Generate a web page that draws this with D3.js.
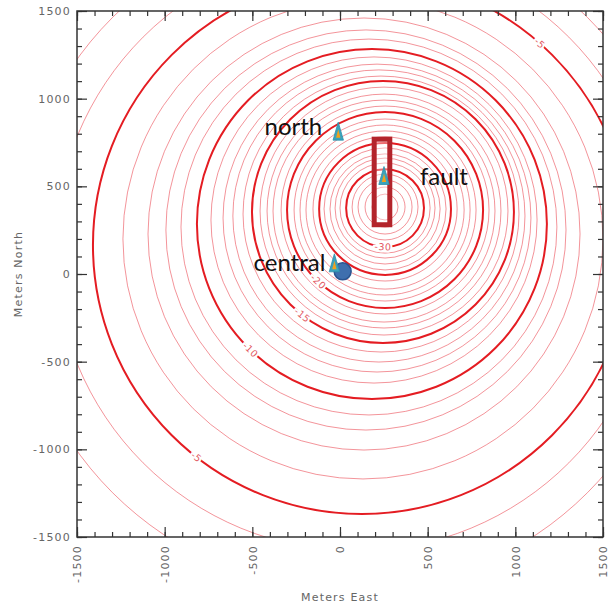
<!DOCTYPE html>
<html>
<head>
<meta charset="utf-8">
<script src="https://cdn.jsdelivr.net/npm/d3@7"></script>
<style>
  html, body { margin: 0; padding: 0; background: #fff; }
  svg { display: block; }
</style>
</head>
<body>
<svg id="chart" width="616" height="608"></svg>
<script>
// Contour levels of the displacement field and the circle that traces each one
// (centre east / north and radius, all in metres).
const contourLevels = [-34, -33, -32, -31, -30, -29, -28, -27, -26, -25, -24, -23, -22, -21, -20,
  -19, -18, -17, -16, -15, -14, -13, -12, -11, -10, -9, -8, -7, -6, -5, -4, -3];
const centerEast = [257, 257, 257, 257, 257, 257, 257, 257, 257, 257, 257, 257, 257, 257, 257,
  257, 251, 251, 251, 245, 234, 222, 211, 194, 182, 165, 148, 137, 131, 125, 91, 57];
const centerNorth = [382, 382, 382, 382, 376, 376, 376, 371, 371, 371, 371, 365, 365, 365, 365,
  365, 359, 359, 359, 354, 342, 331, 319, 308, 285, 268, 251, 228, 200, 165, 137, 108];
const radiusM = [74, 114, 154, 188, 222, 257, 285, 314, 348, 376, 411, 451, 485, 519, 559,
  593, 633, 667, 707, 747, 787, 833, 878, 930, 998, 1072, 1141, 1232, 1369, 1534, 1717, 1916];

// Labelled contours and the direction (degrees, counter-clockwise from east) of each label
const labelLevels = [-30, -20, -15, -10, -5, -5];
const labelAngles = [-93, -133, -128, -134, -128, 48.6];

// Stations and the central point
const stationNames = ["north", "fault", "central"];
const stationEast = [-10, 251, -32];
const stationNorth = [812, 559, 61];
const centralPoint = [15, 15];

// Fault outline (east min/max, north min/max)
const faultEast = [195, 284];
const faultNorth = [281, 769];

// Axes
const axisDomain = [-1500, 1500];
const majorTicks = [-1500, -1000, -500, 0, 500, 1000, 1500];
const minorTicks = d3.range(-1500, 1501, 100);
const xTitle = "Meters East";
const yTitle = "Meters North";

const svg = d3.select("#chart");
const plotL = 77, plotR = 603, plotT = 11, plotB = 537;

const x = d3.scaleLinear().domain(axisDomain).range([plotL, plotR]);
const y = d3.scaleLinear().domain(axisDomain).range([plotB, plotT]);
const rPx = m => x(m) - x(0);

svg.append("defs").append("clipPath").attr("id", "plotClip")
  .append("rect").attr("x", plotL).attr("y", plotT)
  .attr("width", plotR - plotL).attr("height", plotB - plotT);

const contours = contourLevels.map((lv, i) => ({
  level: lv, cx: centerEast[i], cy: centerNorth[i], r: radiusM[i], major: lv % 5 === 0
}));

const gC = svg.append("g").attr("clip-path", "url(#plotClip)");
gC.selectAll("circle.c").data(contours).join("circle")
  .attr("class", "c")
  .attr("cx", d => x(d.cx))
  .attr("cy", d => y(d.cy))
  .attr("r", d => rPx(d.r))
  .attr("fill", "none")
  .attr("stroke", d => d.major ? "#e41c22" : "#ea4a55")
  .attr("stroke-opacity", d => d.major ? 1 : 0.7)
  .attr("stroke-width", d => d.major ? 2 : 0.85);

// Contour labels set along each circle, with a white halo that breaks the line
const labels = labelLevels.map((lv, i) => {
  const c = contours.find(d => d.level === lv);
  const a = labelAngles[i] * Math.PI / 180;
  const px = x(c.cx + c.r * Math.cos(a));
  const py = y(c.cy + c.r * Math.sin(a));
  let rot = -labelAngles[i] + 90;
  while (rot > 90) rot -= 180;
  while (rot <= -90) rot += 180;
  return { text: String(lv), px, py, rot };
});
gC.selectAll("text.cl").data(labels).join("text")
  .attr("class", "cl")
  .attr("transform", d => `translate(${d.px},${d.py}) rotate(${d.rot})`)
  .attr("text-anchor", "middle")
  .attr("dy", "0.35em")
  .attr("font-family", "DejaVu Sans, sans-serif")
  .attr("font-size", 9.5)
  .attr("letter-spacing", 0.5)
  .attr("fill", "#e25862")
  .attr("stroke", "#fff")
  .attr("stroke-width", 4)
  .attr("paint-order", "stroke")
  .text(d => d.text);

// Fault outline
svg.append("rect")
  .attr("x", x(faultEast[0]))
  .attr("y", y(faultNorth[1]))
  .attr("width", x(faultEast[1]) - x(faultEast[0]))
  .attr("height", y(faultNorth[0]) - y(faultNorth[1]))
  .attr("fill", "#fff")
  .attr("fill-opacity", 0.35)
  .attr("stroke", "#b3242b")
  .attr("stroke-width", 5);

// Frame and ticks (ticks point inward on every side)
const tickFont = g => g.selectAll("text")
  .attr("font-family", "DejaVu Sans, sans-serif")
  .attr("font-size", 11)
  .attr("letter-spacing", 1.2)
  .attr("fill", "#666");
const axisStyle = g => {
  g.select(".domain").remove();
  g.selectAll("line").attr("stroke", "#333").attr("stroke-width", 1.2);
};

const fmt = d => d < 0 ? "-" + Math.abs(d) : String(d);

// bottom
svg.append("g").attr("transform", `translate(0,${plotB})`)
  .call(d3.axisBottom(x).tickValues(minorTicks).tickSize(-5).tickFormat(""))
  .call(axisStyle);
const gxB = svg.append("g").attr("transform", `translate(0,${plotB})`)
  .call(d3.axisBottom(x).tickValues(majorTicks).tickSize(-10).tickPadding(8).tickFormat(fmt))
  .call(axisStyle).call(tickFont);
gxB.selectAll("text")
  .attr("transform", "rotate(-90)")
  .attr("text-anchor", "end")
  .attr("x", -8).attr("y", 0).attr("dy", "0.35em");
// top
svg.append("g").attr("transform", `translate(0,${plotT})`)
  .call(d3.axisTop(x).tickValues(minorTicks).tickSize(-5).tickFormat(""))
  .call(axisStyle);
svg.append("g").attr("transform", `translate(0,${plotT})`)
  .call(d3.axisTop(x).tickValues(majorTicks).tickSize(-10).tickFormat(""))
  .call(axisStyle);
// left
svg.append("g").attr("transform", `translate(${plotL},0)`)
  .call(d3.axisLeft(y).tickValues(minorTicks).tickSize(-5).tickFormat(""))
  .call(axisStyle);
svg.append("g").attr("transform", `translate(${plotL},0)`)
  .call(d3.axisLeft(y).tickValues(majorTicks).tickSize(-10).tickPadding(6).tickFormat(fmt))
  .call(axisStyle).call(tickFont);
// right
svg.append("g").attr("transform", `translate(${plotR},0)`)
  .call(d3.axisRight(y).tickValues(minorTicks).tickSize(-5).tickFormat(""))
  .call(axisStyle);
svg.append("g").attr("transform", `translate(${plotR},0)`)
  .call(d3.axisRight(y).tickValues(majorTicks).tickSize(-10).tickFormat(""))
  .call(axisStyle);

svg.append("rect")
  .attr("x", plotL).attr("y", plotT)
  .attr("width", plotR - plotL).attr("height", plotB - plotT)
  .attr("fill", "none").attr("stroke", "#333").attr("stroke-width", 1.5);

// Axis titles
svg.append("text")
  .attr("x", (plotL + plotR) / 2).attr("y", 601)
  .attr("text-anchor", "middle")
  .attr("font-family", "DejaVu Sans, sans-serif")
  .attr("font-size", 11).attr("letter-spacing", 1.2)
  .attr("fill", "#666")
  .text(xTitle);
svg.append("text")
  .attr("transform", `translate(22,${(plotT + plotB) / 2}) rotate(-90)`)
  .attr("text-anchor", "middle")
  .attr("font-family", "DejaVu Sans, sans-serif")
  .attr("font-size", 11).attr("letter-spacing", 1.2)
  .attr("fill", "#666")
  .text(yTitle);

// Central point
svg.append("circle")
  .attr("cx", x(centralPoint[0])).attr("cy", y(centralPoint[1]))
  .attr("r", 8.5)
  .attr("fill", "#3f6fae")
  .attr("stroke", "#2c5590")
  .attr("stroke-width", 1.5);

// Station markers: teal triangle with an orange core
const stations = stationNames.map((n, i) => ({ name: n, e: stationEast[i], n: stationNorth[i] }));
const gS = svg.append("g");
const outerTri = "M0,-9.5 L5.2,8.5 L-5.2,8.5 Z";
const innerTri = "M0,-2.5 L2.2,6 L-2.2,6 Z";
gS.selectAll("path.to").data(stations).join("path")
  .attr("class", "to")
  .attr("transform", d => `translate(${x(d.e)},${y(d.n)})`)
  .attr("d", outerTri)
  .attr("fill", "#3aa3bd")
  .attr("stroke", "#2f8ea8")
  .attr("stroke-width", 0.8);
gS.selectAll("path.ti").data(stations).join("path")
  .attr("class", "ti")
  .attr("transform", d => `translate(${x(d.e)},${y(d.n)})`)
  .attr("d", innerTri)
  .attr("fill", "#f0a21e");

// Station names
const nameOffset = { north: [-16, 3, "end"], fault: [36, 9, "start"], central: [-9, 8, "end"] };
gS.selectAll("text").data(stations).join("text")
  .attr("x", d => x(d.e) + nameOffset[d.name][0])
  .attr("y", d => y(d.n) + nameOffset[d.name][1])
  .attr("text-anchor", d => nameOffset[d.name][2])
  .attr("font-family", "Lato, sans-serif")
  .attr("font-size", 24)
  .attr("fill", "#111")
  .text(d => d.name);
</script>
</body>
</html>
